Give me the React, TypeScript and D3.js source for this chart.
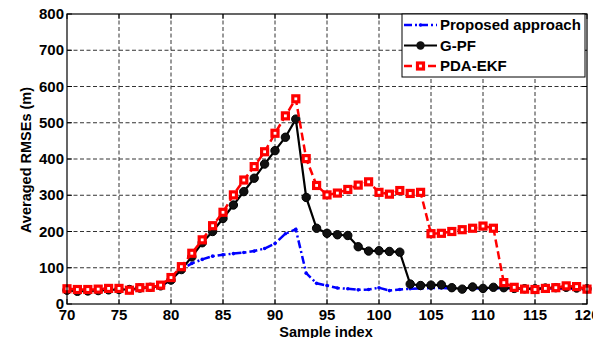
import React from "react";
import * as d3 from "d3";

const samples = [70,71,72,73,74,75,76,77,78,79,80,81,82,83,84,85,86,87,88,89,90,91,92,93,94,95,96,97,98,99,100,101,102,103,104,105,106,107,108,109,110,111,112,113,114,115,116,117,118,119,120];
const proposed = [40,38,38,40,41,42,40,42,44,48,68,95,112,123,132,136,139,142,146,153,167,194,206,85,57,51,44,42,39,40,45,37,40,42,43,44,44,43,41,44,42,43,44,43,42,42,43,43,42,42,41];
const gpf = [38,35,36,37,39,40,40,44,46,50,66,95,130,169,200,236,273,310,347,386,423,460,510,294,209,195,191,189,158,146,147,145,143,55,51,52,53,45,41,47,43,46,45,43,42,42,44,45,46,44,42];
const pdaekf = [42,40,40,41,43,43,38,45,46,52,73,103,140,177,216,253,301,342,379,420,471,519,566,401,327,301,306,316,328,337,308,303,313,305,308,194,195,200,205,209,215,209,59,46,41,40,43,45,50,48,41];
const xTicks = [70,75,80,85,90,95,100,105,110,115,120];
const yTicks = [0,100,200,300,400,500,600,700,800];
const legendLabels = ["Proposed approach", "G-PF", "PDA-EKF"];

const W = 606, H = 338;
const L = 67, R = 587, T = 14, B = 304;
const FONT = "'Liberation Sans', Arial, sans-serif";

export default function App() {
  const x = d3.scaleLinear().domain([70, 120]).range([L, R]);
  const y = d3.scaleLinear().domain([0, 800]).range([B, T]);
  const mk = (vals: number[]) =>
    d3.line<number>().x((_, i) => x(samples[i])).y((v) => y(v))(vals) || "";

  return (
    <svg width={W} height={H} style={{ position: "absolute", left: 0, top: 0, background: "#fff" }}
      fontFamily={FONT} fontWeight="bold">
      <defs>
        <clipPath id="crop"><rect x={0} y={0} width={593} height={H} /></clipPath>
      </defs>
      <rect x={0} y={0} width={W} height={H} fill="#fff" />
      <g clipPath="url(#crop)">
        {/* grid */}
        {xTicks.slice(1, -1).map((t) => (
          <line key={"gx" + t} x1={x(t)} x2={x(t)} y1={T} y2={B} stroke="#333" strokeWidth={1} strokeDasharray="4,2.5" />
        ))}
        {yTicks.slice(1, -1).map((t) => (
          <line key={"gy" + t} x1={L} x2={R} y1={y(t)} y2={y(t)} stroke="#333" strokeWidth={1} strokeDasharray="4,2.5" />
        ))}
        {/* ticks */}
        {xTicks.map((t) => (
          <g key={"tx" + t}>
            <line x1={x(t)} x2={x(t)} y1={B} y2={B - 5} stroke="#000" />
            <line x1={x(t)} x2={x(t)} y1={T} y2={T + 5} stroke="#000" />
            <text x={x(t)} y={320} textAnchor="middle" fontSize={15}>{t}</text>
          </g>
        ))}
        {yTicks.map((t) => (
          <g key={"ty" + t}>
            <line x1={L} x2={L + 5} y1={y(t)} y2={y(t)} stroke="#000" />
            <line x1={R} x2={R - 5} y1={y(t)} y2={y(t)} stroke="#000" />
            <text x={64} y={y(t) + 5} textAnchor="end" fontSize={15}>{t}</text>
          </g>
        ))}
        {/* series */}
        <path d={mk(proposed)} fill="none" stroke="#0000ff" strokeWidth={2.5} strokeDasharray="8,3,2,3" />
        {proposed.map((v, i) => (
          <circle key={"p" + i} cx={x(samples[i])} cy={y(v)} r={1.8} fill="#0000ff" />
        ))}
        <path d={mk(gpf)} fill="none" stroke="#000" strokeWidth={2.2} />
        {gpf.map((v, i) => (
          <circle key={"g" + i} cx={x(samples[i])} cy={y(v)} r={4.2} fill="#111" stroke="#000" strokeWidth={1} />
        ))}
        <path d={mk(pdaekf)} fill="none" stroke="#ff0000" strokeWidth={2.5} strokeDasharray="8,4" />
        {pdaekf.map((v, i) => (
          <rect key={"r" + i} x={x(samples[i]) - 3} y={y(v) - 3} width={6} height={6} fill="#fff" stroke="#ff0000" strokeWidth={3.2} />
        ))}
        {/* frame */}
        <rect x={L} y={T} width={R - L} height={B - T} fill="none" stroke="#000" strokeWidth={1.2} />
        {/* legend */}
        <rect x={402} y={14} width={183} height={63} fill="#fff" stroke="#000" strokeWidth={1} />
        {legendLabels.map((lab, i) => {
          const ly = 25 + i * 20.5;
          return (
            <g key={lab}>
              {i === 0 && (
                <g>
                  <line x1={404} x2={437} y1={ly} y2={ly} stroke="#0000ff" strokeWidth={2.5} strokeDasharray="8,3,2,3" />
                  <circle cx={420.5} cy={ly} r={1.8} fill="#0000ff" />
                </g>
              )}
              {i === 1 && (
                <g>
                  <line x1={404} x2={437} y1={ly} y2={ly} stroke="#000" strokeWidth={2.2} />
                  <circle cx={420.5} cy={ly} r={4.2} fill="#111" />
                </g>
              )}
              {i === 2 && (
                <g>
                  <line x1={404} x2={437} y1={ly} y2={ly} stroke="#ff0000" strokeWidth={2.5} strokeDasharray="8,4" />
                  <rect x={417.5} y={ly - 3} width={6} height={6} fill="#fff" stroke="#ff0000" strokeWidth={3.2} />
                </g>
              )}
              <text x={440} y={ly + 5} fontSize={15}>{lab}</text>
            </g>
          );
        })}
        {/* axis labels */}
        <text x={326} y={337} textAnchor="middle" fontSize={14.5}>Sample index</text>
        <text transform="translate(31,160) rotate(-90)" textAnchor="middle" fontSize={14.5}>Averaged RMSEs (m)</text>
      </g>
    </svg>
  );
}
